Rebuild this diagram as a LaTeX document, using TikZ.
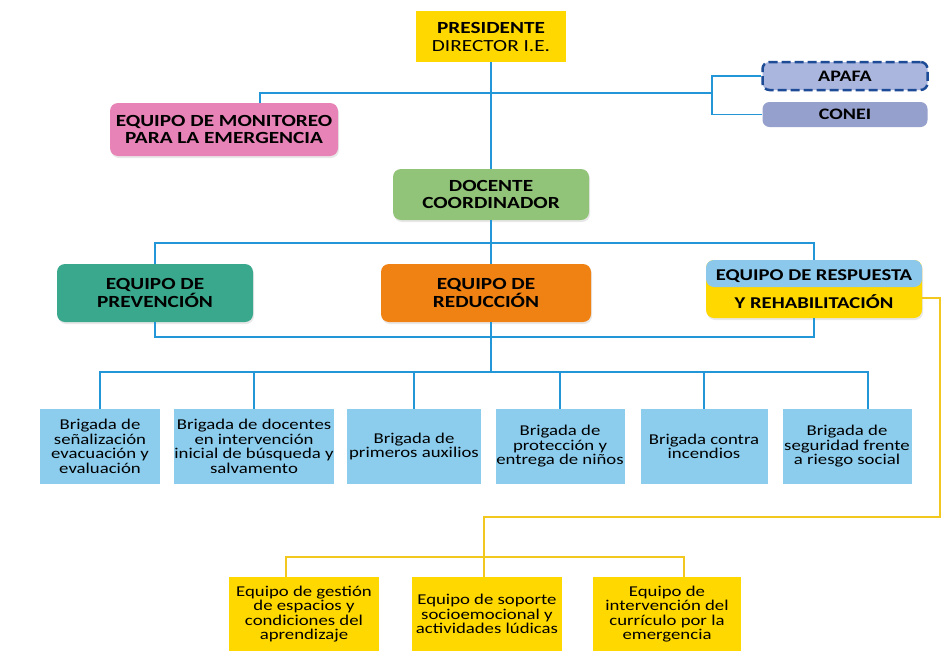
\documentclass[tikz,border=0pt]{standalone}
\usepackage{fontspec}
\setmainfont{Carlito}[FakeStretch=1.25]
\usetikzlibrary{shadows}

\definecolor{linea}{RGB}{35,150,215}
\definecolor{lineaamarilla}{RGB}{242,200,30}
\definecolor{amarillo}{RGB}{255,216,0}
\definecolor{rosa}{RGB}{231,131,182}
\definecolor{verde}{RGB}{145,196,120}
\definecolor{turquesa}{RGB}{58,168,140}
\definecolor{naranja}{RGB}{240,130,20}
\definecolor{celeste}{RGB}{140,205,238}
\definecolor{celestetop}{RGB}{140,200,235}
\definecolor{apafafondo}{RGB}{170,182,222}
\definecolor{apafaborde}{RGB}{30,75,150}
\definecolor{coneifondo}{RGB}{150,160,205}

\tikzset{
  jefe/.style={fill=amarillo, align=center, inner sep=0pt,
    font=\fontsize{17}{18}\selectfont},
  equipo/.style={rounded corners=8pt, align=center, inner sep=0pt,
    font=\bfseries\fontsize{17}{17.7}\selectfont,
    drop shadow={opacity=0.18, shadow xshift=1pt, shadow yshift=-2pt}},
  consejo/.style={rounded corners=7pt, align=center, inner sep=0pt,
    minimum width=165pt, font=\bfseries\fontsize{16}{17}\selectfont},
  brigada/.style={fill=celeste, align=center, inner sep=0pt,
    minimum height=75pt, font=\fontsize{15}{14.5}\selectfont},
  apoyo/.style={fill=amarillo, align=center, inner sep=0pt,
    minimum height=74pt, font=\fontsize{15}{14.5}\selectfont},
  rama/.style={draw=linea, line width=1.8pt},
  ramaamarilla/.style={draw=lineaamarilla, line width=1.5pt},
}

\begin{document}
\begin{tikzpicture}[x=1pt, y=-1pt]
	\useasboundingbox (0,0) rectangle (945,664);
	\fill[white] (0,0) rectangle (945,664);

	% cabecera
	\node[jefe, minimum width=150pt, minimum height=51pt] (pres) at (491,36.5) {{\bfseries PRESIDENTE}\\DIRECTOR I.E.};
	\node[consejo, fill=apafafondo, draw=apafaborde, line width=2.5pt, dash pattern=on 9pt off 4pt, minimum height=28pt] (apafa) at (845,76) {APAFA};
	\node[consejo, fill=coneifondo, minimum height=25pt] (conei) at (845,114.5) {CONEI};
	\node[equipo, fill=rosa, minimum width=228pt, minimum height=53pt] (mon) at (224,129.5) {EQUIPO DE MONITOREO\\PARA LA EMERGENCIA};
	\node[equipo, fill=verde, minimum width=196pt, minimum height=51pt] (doc) at (491,194.5) {DOCENTE\\COORDINADOR};

	% equipos
	\node[equipo, fill=turquesa, minimum width=196pt, minimum height=58pt] (prev) at (155,293) {EQUIPO DE\\PREVENCIÓN};
	\node[equipo, fill=naranja, minimum width=210pt, minimum height=58pt] (red) at (486,293) {EQUIPO DE\\REDUCCIÓN};
	\node[equipo, fill=amarillo, minimum width=216pt, minimum height=58pt, font=\bfseries\fontsize{16.5}{17}\selectfont,
		path picture={\fill[celestetop] (path picture bounding box.north west) rectangle ([yshift=-27pt]path picture bounding box.north east);}]
		(resp) at (814,289) {EQUIPO DE RESPUESTA\\[11pt]Y REHABILITACIÓN};

	% brigadas
	\node[brigada, minimum width=120pt] (b1) at (100,446.5) {Brigada de\\señalización\\evacuación y\\evaluación};
	\node[brigada, minimum width=158pt] (b2) at (254,446.5) {Brigada de docentes\\en intervención\\inicial de búsqueda y\\salvamento};
	\node[brigada, minimum width=134pt] (b3) at (414,446.5) {Brigada de\\primeros auxilios};
	\node[brigada, minimum width=129pt] (b4) at (560,446.5) {Brigada de\\protección y\\entrega de niños};
	\node[brigada, minimum width=127pt] (b5) at (704,446.5) {Brigada contra\\incendios};
	\node[brigada, minimum width=129pt] (b6) at (847,446.5) {Brigada de\\seguridad frente\\a riesgo social};

	% equipos de apoyo
	\node[apoyo, minimum width=150pt] (y1) at (304,614) {Equipo de gestión\\de espacios y\\condiciones del\\aprendizaje};
	\node[apoyo, minimum width=150pt] (y2) at (487,614) {Equipo de soporte\\socioemocional y\\actividades lúdicas};
	\node[apoyo, minimum width=148pt] (y3) at (667,614) {Equipo de\\intervención del\\currículo por la\\emergencia};

	% conectores
	\coordinate (nudo) at (712,93);
	\coordinate (barra1) at (491,243);
	\coordinate (barra2) at (491,337);
	\coordinate (barra3) at (491,372);
	\coordinate (giro) at (940,517);
	\coordinate (barra4) at (484,557);

	\draw[rama] (pres.south) -- (doc.north);
	\draw[rama] ([xshift=36pt]mon.north) |- (nudo);
	\draw[rama] (apafa.west) -| (nudo) |- (conei.west);
	\draw[rama] (doc.south) -- (doc.south |- red.north);
	\draw[rama] (prev.north) |- (barra1) -| (resp.north);
	\draw[rama] (prev.south) |- (barra2) -| (resp.south);
	\draw[rama] (red.south -| barra2) -- (barra3);
	\draw[rama] (b1.north) |- (barra3) -| ([xshift=21pt]b6.north);
	\foreach \b in {b2,b3,b4,b5}
		\draw[rama] (\b.north) -- (\b.north |- barra3);

	\draw[ramaamarilla] ([yshift=-9pt]resp.east) -| (giro) -| (barra4) -- (barra4 |- y2.north);
	\draw[ramaamarilla] ([xshift=-18pt]y1.north) |- (barra4) -| ([xshift=17pt]y3.north);
\end{tikzpicture}
\end{document}
